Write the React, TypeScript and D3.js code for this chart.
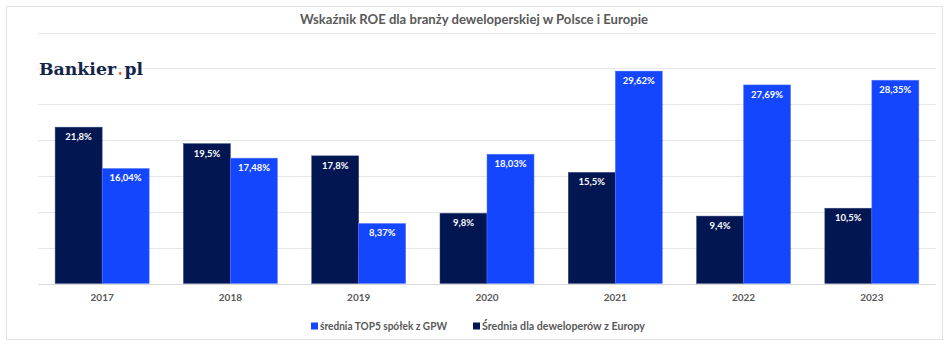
import React from "react";
import * as d3 from "d3";

const years = ["2017", "2018", "2019", "2020", "2021", "2022", "2023"];
const europe = [21.8, 19.5, 17.8, 9.8, 15.5, 9.4, 10.5];
const gpw = [16.04, 17.48, 8.37, 18.03, 29.62, 27.69, 28.35];
const europeLabels = ["21,8%", "19,5%", "17,8%", "9,8%", "15,5%", "9,4%", "10,5%"];
const gpwLabels = ["16,04%", "17,48%", "8,37%", "18,03%", "29,62%", "27,69%", "28,35%"];
const seriesNames = ["średnia TOP5 spółek z GPW", "Średnia dla deweloperów z Europy"];
const yTicks = [0, 5, 10, 15, 20, 25, 30, 35];

const W = 948;
const H = 345;
const DARK = "#021652";
const BLUE = "#1446FF";
const GREY = "#595959";
const FONT = "Lato, 'Open Sans', sans-serif";
const SERIF = "'DejaVu Serif', 'Liberation Serif', serif";

export default function App() {
  const x = d3.scaleBand().domain(years).range([38, 936]).paddingInner(0.267).paddingOuter(0.1335);
  const y = d3.scaleLinear().domain([0, 35]).range([283.5, 32.5]);
  const bw = x.bandwidth() / 2;

  return (
    <svg width={W} height={H} style={{ position: "absolute", left: 0, top: 0 }}>
      <rect x={0} y={0} width={W} height={H} fill="#fff" />
      <rect x={6.5} y={6.5} width={936} height={333} fill="#fff" stroke="#e3e3e3" strokeWidth={1} />
      <text x={474} y={24} textAnchor="middle" fontFamily={FONT} fontWeight={700} fontSize={14} fill={GREY} textLength={348} lengthAdjust="spacingAndGlyphs">
        Wskaźnik ROE dla branży deweloperskiej w Polsce i Europie
      </text>
      {yTicks.map((t) => (
        <line key={t} x1={38} x2={936} y1={Math.round(y(t)) + 0.5} y2={Math.round(y(t)) + 0.5} stroke={t === 0 ? "#d9d9d9" : "#e6e6e6"} strokeWidth={1} />
      ))}
      <text x={39} y={74.5} fontFamily={SERIF} fontWeight={700} fontSize={16} fill="#14254a" textLength={77} lengthAdjust="spacingAndGlyphs">
        Bankier
      </text>
      <text x={118} y={74.5} fontFamily={SERIF} fontWeight={700} fontSize={16} fill="#f05a22" textLength={4.5} lengthAdjust="spacingAndGlyphs">
        .
      </text>
      <text x={124.5} y={74.5} fontFamily={SERIF} fontWeight={700} fontSize={16} fill="#14254a" textLength={18.5} lengthAdjust="spacingAndGlyphs">
        pl
      </text>
      {years.map((yr, i) => {
        const x0 = x(yr) as number;
        return (
          <g key={yr}>
            <rect x={x0} y={y(europe[i])} width={bw} height={y(0) - y(europe[i])} fill={DARK} stroke="#3a4a7a" strokeWidth={0.5} />
            <rect x={x0 + bw} y={y(gpw[i])} width={bw} height={y(0) - y(gpw[i])} fill={BLUE} stroke="#5a7dff" strokeWidth={0.5} />
            <text x={x0 + bw / 2} y={y(europe[i]) + 13} textAnchor="middle" fontFamily={FONT} fontWeight={700} fontSize={9.5} fill="#fff">
              {europeLabels[i]}
            </text>
            <text x={x0 + bw * 1.5} y={y(gpw[i]) + 13} textAnchor="middle" fontFamily={FONT} fontWeight={700} fontSize={9.5} fill="#fff">
              {gpwLabels[i]}
            </text>
            <text x={x0 + bw} y={300.5} textAnchor="middle" fontFamily={FONT} fontWeight={700} fontSize={10} fill={GREY}>
              {yr}
            </text>
          </g>
        );
      })}
      <rect x={311} y={322.5} width={7} height={7} fill={BLUE} />
      <text x={320} y={329.5} fontFamily={FONT} fontWeight={700} fontSize={10.5} fill={GREY} textLength={127} lengthAdjust="spacingAndGlyphs">
        {seriesNames[0]}
      </text>
      <rect x={473} y={322.5} width={7} height={7} fill={DARK} />
      <text x={482} y={329.5} fontFamily={FONT} fontWeight={700} fontSize={10.5} fill={GREY} textLength={163} lengthAdjust="spacingAndGlyphs">
        {seriesNames[1]}
      </text>
    </svg>
  );
}
